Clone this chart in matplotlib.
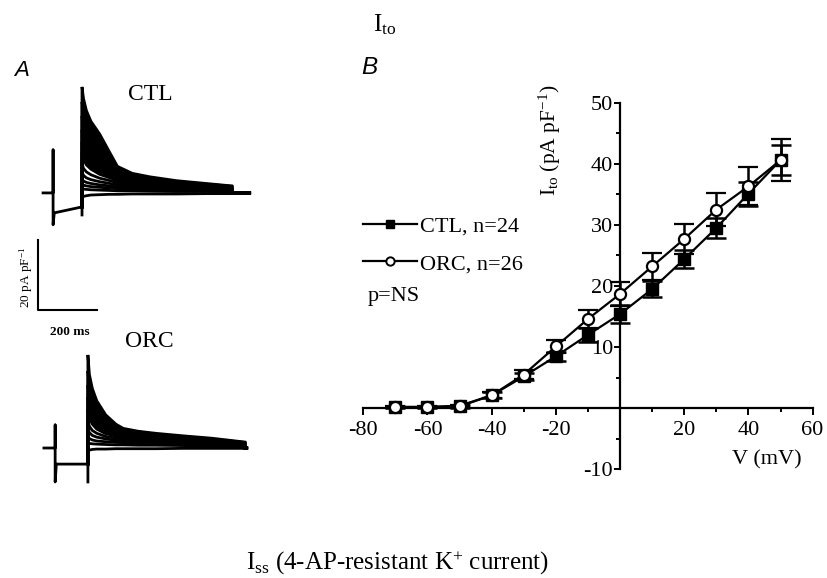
import matplotlib
matplotlib.use("Agg")
from matplotlib import pyplot as plt
from matplotlib.lines import Line2D

plt.rcParams['font.family'] = ['Liberation Serif', 'DejaVu Serif']
plt.rcParams['mathtext.fontset'] = 'custom'
plt.rcParams['mathtext.rm'] = 'Liberation Serif'
plt.rcParams['mathtext.it'] = 'Liberation Serif:italic'

# ---- panel B: I-V relation of Ito ----
voltages = [-70, -60, -50, -40, -30, -20, -10, 0, 10, 20, 30, 40, 50]
ctl_mean = [0.2, 0.2, 0.3, 2.1, 5.2, 8.5, 12.0, 15.4, 19.5, 24.4, 29.5, 35.1, 40.6]
ctl_sem = [0.2, 0.2, 0.2, 0.5, 0.6, 0.7, 1.1, 1.5, 1.3, 1.5, 1.7, 2.0, 2.4]
orc_mean = [0.2, 0.2, 0.4, 2.1, 5.5, 10.1, 14.6, 18.7, 23.2, 27.7, 32.5, 36.3, 40.6]
orc_sem = [0.2, 0.2, 0.2, 0.5, 0.8, 1.0, 1.5, 1.9, 2.2, 2.4, 2.7, 3.1, 3.4]

# ---- panel A: current traces (ms after depolarising step, pA/pF) ----
ctl_grid = [0, 5, 15, 30, 60, 95, 120, 170, 230, 320, 420, 508]
ctl_traces = [
    [30.3, 27.0, 23.5, 20.5, 16.8, 11.4, 7.6, 5.6, 4.6, 3.5, 2.7, 2.0],
    [26.0, 23.0, 20.5, 18.0, 13.5, 9.5, 6.5, 5.0, 4.1, 3.2, 2.5, 1.9],
    [22.0, 19.0, 16.5, 14.0, 10.5, 7.8, 5.6, 4.4, 3.7, 2.9, 2.3, 1.7],
    [18.0, 15.0, 13.0, 11.0, 8.2, 6.3, 4.8, 3.9, 3.3, 2.6, 2.1, 1.6],
    [14.5, 12.0, 10.0, 8.5, 6.5, 5.2, 4.1, 3.4, 2.9, 2.3, 1.9, 1.5],
    [11.4, 9.5, 8.0, 6.8, 5.3, 4.3, 3.5, 2.9, 2.5, 2.0, 1.7, 1.3],
    [8.5, 7.0, 6.0, 5.2, 4.2, 3.5, 2.9, 2.4, 2.1, 1.7, 1.4, 1.1],
    [6.0, 5.0, 4.3, 3.8, 3.2, 2.7, 2.3, 2.0, 1.7, 1.4, 1.2, 1.0],
    [4.0, 3.4, 3.0, 2.7, 2.3, 2.0, 1.7, 1.5, 1.3, 1.1, 0.9, 0.8],
    [2.5, 2.2, 2.0, 1.8, 1.6, 1.4, 1.2, 1.1, 1.0, 0.8, 0.7, 0.6],
    [1.2, 1.1, 1.0, 0.9, 0.8, 0.7, 0.6, 0.6, 0.5, 0.4, 0.4, 0.3],
    [-1.5, -1.0, -0.8, -0.6, -0.5, -0.4, -0.4, -0.3, -0.3, -0.3, -0.2, -0.2],
]
ctl_pre_t = [0, 34, 34, 34, 38, 132, 132]
ctl_pre_i = [0, 0, 12.3, -9.1, -5.7, -4.0, -6.3]
ctl_step, ctl_end, ctl_stop = 132, 640, 700

orc_grid = [0, 5, 15, 30, 60, 95, 120, 170, 230, 320, 420, 532]
orc_traces = [
    [26.6, 21.0, 17.0, 13.5, 9.5, 6.8, 5.6, 4.8, 4.2, 3.5, 2.8, 1.7],
    [22.0, 17.5, 14.0, 11.0, 7.8, 5.8, 4.9, 4.2, 3.7, 3.1, 2.5, 1.6],
    [18.0, 14.0, 11.0, 8.8, 6.3, 4.9, 4.2, 3.6, 3.2, 2.7, 2.2, 1.5],
    [14.5, 11.0, 8.8, 7.0, 5.1, 4.1, 3.6, 3.1, 2.8, 2.4, 2.0, 1.4],
    [11.0, 8.5, 6.8, 5.4, 4.1, 3.4, 3.0, 2.7, 2.4, 2.1, 1.8, 1.3],
    [8.0, 6.2, 5.0, 4.2, 3.3, 2.8, 2.5, 2.3, 2.1, 1.8, 1.6, 1.2],
    [5.5, 4.4, 3.6, 3.1, 2.6, 2.2, 2.0, 1.9, 1.7, 1.5, 1.3, 1.0],
    [3.2, 2.7, 2.3, 2.0, 1.8, 1.6, 1.5, 1.4, 1.3, 1.2, 1.0, 0.8],
    [1.5, 1.3, 1.2, 1.1, 1.0, 0.9, 0.9, 0.8, 0.8, 0.7, 0.6, 0.5],
    [-1.0, -0.6, -0.4, -0.3, -0.3, -0.2, -0.2, -0.2, -0.2, -0.1, -0.1, -0.1],
]
orc_pre_t = [3, 41, 41, 41, 45, 152, 152]
orc_pre_i = [0, 0, 6.6, -9.7, -4.6, -4.6, -9.7]
orc_step, orc_end, orc_stop = 152, 684, 690
orc_offset = -72.9   # vertical offset of the ORC family in panel A

fig = plt.figure(figsize=(8.27, 5.78), dpi=100)


def draw_family(ax, pre_t, pre_i, grid, traces, step, end, stop, offset, n_solid):
    ax.plot(pre_t, [v + offset for v in pre_i], color='black', lw=2.0)
    t_step = [step + g for g in grid]
    # the largest traces overlap into one black band
    ax.fill_between(t_step, [v + offset for v in traces[n_solid]],
                    [v + offset for v in traces[0]], color='black', lw=0)
    for tr in traces:
        t = [step] + t_step + [end, end, stop]
        i = [pre_i[-2]] + tr + [tr[-1], 0, 0]
        ax.plot(t, [v + offset for v in i], color='black', lw=2.0,
                solid_joinstyle='miter')


# panel A
axA = fig.add_axes([10 / 827, 1 - 490 / 578, 242 / 827, 415 / 578])
axA.set_xlim(-112, 708)
axA.set_ylim(-84.9, 33.7)
axA.axis('off')
draw_family(axA, ctl_pre_t, ctl_pre_i, ctl_grid, ctl_traces,
            ctl_step, ctl_end, ctl_stop, 0, 5)
draw_family(axA, orc_pre_t, orc_pre_i, orc_grid, orc_traces,
            orc_step, orc_end, orc_stop, orc_offset, 4)
# scale bars: 20 pA/pF and 200 ms
axA.plot([-17, -17, 183], [-13.4, -33.4, -33.4], color='black', lw=1.5)
axA.text(-57, -24.2, '20 pA pF$^{-1}$', rotation=90, ha='center', va='center',
         fontsize=9.5)
axA.text(92, -39.7, '200 ms', ha='center', va='center', fontsize=9.5,
         fontweight='bold')
axA.text(363, 28, 'CTL', ha='center', va='center', fontsize=17)
axA.text(359, -42.6, 'ORC', ha='center', va='center', fontsize=17)

# panel B
axB = fig.add_axes([363.3 / 827, 1 - 469.3 / 578, 449.3 / 827, 366.6 / 578])
axB.set_xlim(-80, 60)
axB.set_ylim(-10, 50)
axB.errorbar(voltages, ctl_mean, yerr=ctl_sem, fmt='-s', color='black',
             mfc='black', mec='black', ms=8, lw=1.6, elinewidth=1.8,
             capsize=7, capthick=1.8, clip_on=False, zorder=3)
axB.errorbar(voltages, orc_mean, yerr=orc_sem, fmt='-o', color='black',
             mfc='white', mec='black', mew=1.6, ms=8, lw=1.6, elinewidth=1.8,
             capsize=7, capthick=1.8, clip_on=False, zorder=4)

for side in ['top', 'right']:
    axB.spines[side].set_visible(False)
axB.spines['left'].set_position(('data', 0))
axB.spines['bottom'].set_position(('data', 0))
axB.spines['left'].set_linewidth(1.6)
axB.spines['bottom'].set_linewidth(1.6)

axB.set_xticks([-80, -60, -40, -20, 0, 20, 40, 60])
axB.set_xticklabels(['-80', '-60', '-40', '-20', '', '20', '40', '60'])
axB.set_xticks(range(-70, 60, 20), minor=True)
axB.set_yticks([-10, 0, 10, 20, 30, 40, 50])
axB.set_yticklabels(['-10', '', '10', '20', '30', '40', '50'])
axB.set_yticks(range(-5, 50, 10), minor=True)
axB.tick_params(axis='x', which='major', direction='out', length=5, width=1.4,
                labelsize=16, pad=4)
axB.tick_params(axis='x', which='minor', direction='out', length=3, width=1.4)
axB.tick_params(axis='y', which='major', direction='out', length=4, width=1.4,
                labelsize=16, pad=1)
axB.tick_params(axis='y', which='minor', direction='out', length=3, width=1.4)

axB.text(45.8, -8.5, 'V (mV)', ha='center', va='center', fontsize=16)
axB.text(-21.8, 43.9, 'I$_{\\rm to}$ (pA pF$^{-1}$)', rotation=90,
         ha='center', va='center', fontsize=15.5)

handles = [Line2D([], [], color='black', lw=1.6, marker='s', ms=6,
                  mfc='black', mec='black'),
           Line2D([], [], color='black', lw=1.6, marker='o', ms=6,
                  mfc='white', mec='black', mew=1.4)]
axB.legend(handles, ['CTL, n=24', 'ORC, n=26'], loc='upper left',
           bbox_to_anchor=(0.0, 0.69), frameon=False, fontsize=16,
           handlelength=2.4, handletextpad=0.15, labelspacing=0.75,
           borderaxespad=0, borderpad=0)
axB.text(-78.5, 18.3, 'p=NS', ha='left', va='center', fontsize=16)

# headings
fig.text(385 / 827, 1 - 25 / 578, 'I$_{\\rm to}$', ha='center', va='center',
         fontsize=18)
fig.text(22 / 827, 1 - 70 / 578, 'A', ha='center', va='center', fontsize=16,
         style='italic', family=['Liberation Sans'])
fig.text(369 / 827, 1 - 67 / 578, 'B', ha='center', va='center', fontsize=17.5,
         style='italic', family=['Liberation Sans'])
fig.text(398 / 827, 1 - 563 / 578, 'I$_{\\rm ss}$ (4-AP-resistant K$^{+}$ current)',
         ha='center', va='center', fontsize=18)

fig.savefig('out.png', dpi=100)
